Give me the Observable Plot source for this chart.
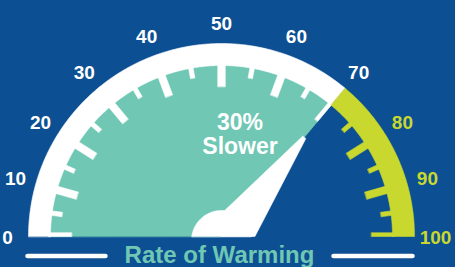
<!DOCTYPE html>
<html><head><meta charset="utf-8">
<script src="https://cdn.jsdelivr.net/npm/d3@7"></script>
<script src="https://cdn.jsdelivr.net/npm/@observablehq/plot@0.6"></script>
<style>html,body{margin:0;padding:0;background:#0c4f92;overflow:hidden}</style>
</head><body><div id="chart"></div>
<script>
// ---- data ----
const scaleMin = 0, scaleMax = 100;
const majorTicks = [0, 10, 20, 30, 40, 50, 60, 70, 80, 90, 100];
const minorTicks = [5, 15, 25, 35, 45, 55, 65, 75, 85, 95];
const tickLabels = ["0", "10", "20", "30", "40", "50", "60", "70", "80", "90", "100"];
const zoneBreak = 70;
const needleValue = 70;
const needleWord = "Slower";
const title = "Rate of Warming";

// ---- style ----
const BG = "#0c4f92", TEAL = "#6fc7b4", LIME = "#c8d82f", WHITE = "#ffffff";
const FONT = "'Liberation Sans', Arial, sans-serif";
const W = 455, H = 267, CX = 221, CY = 236;
const R_OUT = 193, R_IN = 171, R_LONG = 150, R_SHORT = 161, LONG_W = 7.5, SHORT_W = 4.5;
const R_LABEL = 214, NEEDLE_LEN = 129, K = 0.87;

function ang(v) {
  const t = Math.PI * (v - scaleMin) / (scaleMax - scaleMin);
  return Math.atan2(K * Math.sin(t), -Math.cos(t));
}
function ptAt(v, r) { const a = ang(v); return [r * Math.cos(a), r * Math.sin(a)]; }
function band(id, v0, v1, r0, r1) {
  const rows = [], n = Math.max(2, Math.ceil((v1 - v0) * 4));
  for (let i = 0; i <= n; i++) { const [x, y] = ptAt(v0 + (v1 - v0) * i / n, r1); rows.push({id, x, y}); }
  if (r0 === 0) rows.push({id, x: 0, y: 0});
  else for (let i = n; i >= 0; i--) { const [x, y] = ptAt(v0 + (v1 - v0) * i / n, r0); rows.push({id, x, y}); }
  return rows;
}
function tick(id, v, rIn, rOut, w, half) {
  const a = ang(v), ux = Math.cos(a), uy = Math.sin(a), nx = -uy, ny = ux;
  let o0 = -w / 2, o1 = w / 2;
  if (half === "lo") o0 = 0;
  if (half === "hi") o1 = 0;
  return [[rIn, o0], [rOut, o0], [rOut, o1], [rIn, o1]].map(([r, o]) => ({id, x: r * ux + o * nx, y: r * uy + o * ny}));
}

const tealRows = band("teal", scaleMin, zoneBreak, 0, R_IN + 1);
const whiteRows = band("wband", scaleMin, zoneBreak, R_IN, R_OUT);
const limeRows = band("lband", zoneBreak, scaleMax, R_IN, R_OUT);
const allTicks = [...majorTicks.map(v => ({v, major: true})), ...minorTicks.map(v => ({v, major: false}))];
allTicks.forEach(({v, major}, i) => {
  const half = v === scaleMin ? "hi" : (v === zoneBreak || v === scaleMax) ? "lo" : null;
  const rows = tick("t" + i, v, major ? R_LONG : R_SHORT, R_IN + 2, major ? LONG_W : SHORT_W, half);
  (v <= zoneBreak ? whiteRows : limeRows).push(...rows);
});

// needle
const th = ang(needleValue);
const [tx, ty] = ptAt(needleValue, NEEDLE_LEN);
const pnx = -Math.sin(th), pny = Math.cos(th);
const tipL = [tx + 2 * pnx, ty + 2 * pny], tipR = [tx - 2 * pnx, ty - 2 * pny];
const aL = th - 6.5 * Math.PI / 180, aR = th + 12.4 * Math.PI / 180;
const baseL = [tipL[0] - 125 * Math.cos(aL), tipL[1] - 125 * Math.sin(aL)];
const sR = tipR[1] / Math.sin(aR);
const baseR = [tipR[0] - sR * Math.cos(aR), 0];
const needleRows = [tipL, baseL, [0, 0], baseR, tipR].map(([x, y]) => ({id: "needle", x, y}));
// hub
const HUB_R = 30, HUB_DY = -4;
const hubRows = [];
const a0 = Math.asin(-HUB_DY / HUB_R);
for (let i = 0; i <= 60; i++) {
  const a = a0 + (Math.PI - 2 * a0) * i / 60;
  hubRows.push({id: "hub", x: HUB_R * Math.cos(a), y: HUB_DY + HUB_R * Math.sin(a)});
}

const labelRows = majorTicks.map((v, i) => {
  const [x, y] = ptAt(v, R_LABEL);
  return {v, text: tickLabels[i], x, y: y - 1};
});
const decor = [
  {x1: -194, x2: -116, y: -19.5},
  {x1: 112, x2: 191, y: -19.5}
];

const poly = (rows, color) => Plot.line(rows, {x: "x", y: "y", z: "id", curve: "linear-closed", fill: color, stroke: color, strokeWidth: 0.6});

const chart = Plot.plot({
  width: W, height: H, margin: 0,
  x: {domain: [-CX, W - CX], axis: null},
  y: {domain: [-(H - CY), CY], axis: null},
  style: {background: BG, fontFamily: FONT, overflow: "visible"},
  marks: [
    poly(tealRows, TEAL),
    poly(whiteRows, WHITE),
    poly(limeRows, LIME),
    poly(needleRows, WHITE),
    poly(hubRows, WHITE),
    Plot.text(labelRows.filter(d => d.v <= zoneBreak), {x: "x", y: "y", text: "text", fill: WHITE, fontSize: 19, fontWeight: 700, fontFamily: FONT}),
    Plot.text(labelRows.filter(d => d.v > zoneBreak), {x: "x", y: "y", text: "text", fill: LIME, fontSize: 19, fontWeight: 700, fontFamily: FONT}),
    Plot.text([`${scaleMax - needleValue}%\n${needleWord}`], {x: 18.5, y: 83, text: d => d, fill: WHITE, fontSize: 23, fontWeight: 700, lineAnchor: "bottom", lineHeight: 1.04, fontFamily: FONT}),
    Plot.text([title], {x: -2, y: -26, text: d => d, fill: TEAL, fontSize: 24, fontWeight: 700, lineAnchor: "bottom", fontFamily: FONT}),
    Plot.link(decor, {x1: "x1", x2: "x2", y1: "y", y2: "y", stroke: WHITE, strokeWidth: 4.5, strokeLinecap: "round"})
  ]
});
document.getElementById("chart").appendChild(chart);
</script>
</body></html>
